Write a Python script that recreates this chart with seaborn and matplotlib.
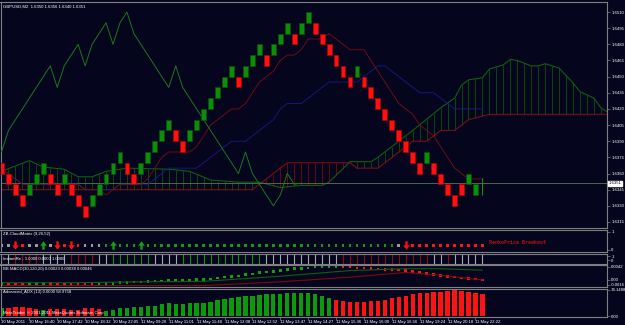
import numpy as np
import pandas as pd
import matplotlib
matplotlib.use("Agg")
import matplotlib.pyplot as plt
from matplotlib.path import Path
from matplotlib.transforms import blended_transform_factory
import seaborn as sns

BG = "#05051e"
FRAME = "#808080"

# ---------------- data ----------------
# renko bricks (10 pip): top price of every closed brick and its direction
brick_top = [1.6370, 1.6360, 1.6350, 1.6340, 1.6350, 1.6360, 1.6370, 1.6360, 1.6350, 1.6360,
             1.6350, 1.6340, 1.6330, 1.6340, 1.6350, 1.6360, 1.6370, 1.6380, 1.6370, 1.6360,
             1.6370, 1.6380, 1.6390, 1.6400, 1.6410, 1.6400, 1.6390, 1.6400, 1.6410, 1.6420,
             1.6430, 1.6440, 1.6450, 1.6460, 1.6450, 1.6460, 1.6470, 1.6480, 1.6470, 1.6480,
             1.6490, 1.6500, 1.6490, 1.6500, 1.6510, 1.6500, 1.6490, 1.6480, 1.6470, 1.6460,
             1.6450, 1.6460, 1.6450, 1.6440, 1.6430, 1.6420, 1.6410, 1.6400, 1.6390, 1.6380,
             1.6370, 1.6380, 1.6370, 1.6360, 1.6350, 1.6340, 1.6350, 1.6360, 1.6350]
brick_dir = list("dddduuudduddduuuuudduuuuudduuuuuuuduuuduuuduudddddduddddddddduddddduud")
BRICK = 0.0010
# bar still forming (header O H L C)
cur_open, cur_high, cur_low, cur_close = 1.6350, 1.6356, 1.6340, 1.6351

# ichimoku cloud edges (bar, price)
span_a_bars = [0, 4, 6, 9, 11, 13, 15, 18, 24, 27, 30, 34, 37, 40, 43, 46, 47, 50, 53, 54,
               59, 63, 65, 66, 67, 69, 70, 72, 73, 74, 76, 77, 78, 80, 82, 83, 85, 86, 87]
span_a = [1.6362, 1.6372, 1.6366, 1.6364, 1.6357, 1.6357, 1.6362, 1.6365, 1.6364, 1.6362,
          1.6354, 1.6352, 1.6352, 1.6347, 1.6349, 1.6349, 1.6352, 1.6371, 1.6371, 1.6375,
          1.6400, 1.6421, 1.6430, 1.6442, 1.6447, 1.6449, 1.6457, 1.6461, 1.6466, 1.6465,
          1.6460, 1.6460, 1.6462, 1.6458, 1.6444, 1.6436, 1.6430, 1.6421, 1.6417]
span_b_bars = [0, 36, 41, 50, 51, 54, 59, 61, 63, 65, 67, 70, 87]
span_b = [1.6345, 1.6345, 1.6370, 1.6370, 1.6365, 1.6365, 1.6390, 1.6390, 1.6400, 1.6400,
          1.6410, 1.6415, 1.6415]

price_ticks = [1.6315, 1.6330, 1.6345, 1.6360, 1.6375, 1.6390, 1.6405, 1.6420, 1.6435,
               1.6450, 1.6465, 1.6480, 1.6495, 1.6510]

# ZB-CloudMatrix signal row: + green, - red, 0 grey ; arrows at breakouts
sig_state = list("00--00+0----000+" + "+" * 41 + "0" + "-" * 12)
sig_arrows = [2, 6, 8, 10, 16, 20, 58]

# InstantRe state per bar
instant_state = list("00----0000----00++++++0000" + "+" * 12 + "0" * 11 + "-" * 13 + "00-00000")

# BB MACD dots and bands
macd = [-0.0012, -0.00135, -0.0015, -0.0015, -0.00135, -0.0012, -0.00105, -0.0012, -0.00135, -0.00135,
        -0.0015, -0.0015, -0.0015, -0.0015, -0.00135, -0.0012, -0.00105, -0.0009, -0.00075, -0.0006,
        -0.0006, -0.00045, -0.0003, -0.0003, -0.00015, -0.0001, -0.00005, 0.0, 0.0001, 0.0002,
        0.0003, 0.0006, 0.0009, 0.0012, 0.0013, 0.0018, 0.0019, 0.0024, 0.0025, 0.0027,
        0.0030, 0.0033, 0.0036, 0.0037, 0.0039, 0.0041, 0.0042, 0.00425, 0.0043, 0.0042,
        0.00415, 0.0039, 0.0038, 0.0036, 0.0035, 0.0034, 0.0033, 0.0032, 0.0030, 0.0027,
        0.0024, 0.0021, 0.0018, 0.0015, 0.0012, 0.0009, 0.0006, 0.0005, 0.0003, 0.0000]
band_bars = [0, 10, 20, 29, 40, 50, 58, 63, 69]
band_up = [-0.0009, -0.0009, -0.0006, -0.00045, 0.0012, 0.0030, 0.0036, 0.0036, 0.00315]
band_lo = [-0.0018, -0.0018, -0.0018, -0.0018, -0.0006, 0.0009, 0.0024, 0.0015, 0.0]

# Advanced ADX histogram, + when DI+ leads
adx_vals = [22.8, 22.8, 25.7, 25.7, 22.8, 20.0, 17.0, 20.0, 20.0, 20.0,
            17.1, 17.1, 22.8, 22.8, 20.0, 14.3, 18.0, 22.3, 24.0, 26.5,
            26.5, 29.4, 28.5, 33.3, 36.2, 34.2, 33.3, 36.2, 36.2, 37.0,
            39.0, 44.7, 48.5, 52.2, 55.0, 57.0, 57.9, 59.9, 61.8, 61.8,
            62.7, 65.6, 64.7, 64.7, 66.4, 62.7, 57.9, 50.4, 44.7, 42.8,
            40.8, 39.9, 39.0, 41.9, 43.6, 44.7, 50.4, 53.3, 57.0, 61.8,
            64.7, 66.4, 67.5, 69.3, 71.3, 74.1, 72.1, 69.3, 64.7, 61.8]
adx_dir = list("+-----+--------" + "+" * 33 + "-" * 22)

time_bars = [0, 4, 8, 12, 16, 20, 24, 28, 32, 36, 40, 44, 48, 52, 56, 60, 64, 68]
time_labels = ["10 May 2011", "10 May 16:40", "10 May 17:42", "10 May 18:32", "10 May 22:05",
               "11 May 09:20", "11 May 11:01", "11 May 11:48", "11 May 12:08", "11 May 12:52",
               "11 May 13:47", "11 May 14:27", "11 May 15:36", "11 May 16:00", "11 May 16:56",
               "11 May 19:24", "11 May 20:18", "11 May 22:22"]

# ---------------- derived ichimoku lines ----------------
highs = pd.Series(brick_top + [cur_high])
lows = pd.Series([t - BRICK for t in brick_top] + [cur_low])
closes = np.array([t if d == "u" else t - BRICK for t, d in zip(brick_top, brick_dir)] + [cur_close])
bars = np.arange(len(closes))
tenkan = (highs.rolling(9, min_periods=1).max() + lows.rolling(9, min_periods=1).min()) / 2
kijun = (highs.rolling(26, min_periods=1).max() + lows.rolling(26, min_periods=1).min()) / 2

# ---------------- figure ----------------
sns.set_style("dark", {"axes.facecolor": BG, "figure.facecolor": BG, "axes.edgecolor": FRAME})
plt.rcParams["font.family"] = ["Liberation Sans", "DejaVu Sans"]
FS = 3.1

W, H = 625, 325


def box(x0, y0, x1, y1):
    return [x0 / W, 1 - y1 / H, (x1 - x0) / W, (y1 - y0) / H]


fig = plt.figure(figsize=(6.25, 3.25), dpi=100, facecolor=BG)
ax = fig.add_axes(box(0.5, 1.5, 607, 228))
p1 = fig.add_axes(box(0.5, 230, 607, 251.5))
p2 = fig.add_axes(box(0.5, 253.5, 607, 263.5))
p3 = fig.add_axes(box(0.5, 265, 607, 286.5))
p4 = fig.add_axes(box(0.5, 288.5, 607, 316.5))
XL = (-0.14, 86.87)


def style(a, ticks, labels):
    a.set_facecolor(BG)
    a.grid(False)
    a.set_xlim(*XL)
    for sp in a.spines.values():
        sp.set_color(FRAME)
        sp.set_linewidth(0.8)
    a.set_yticks(ticks)
    a.set_yticklabels(labels)
    a.tick_params(axis="y", left=False, right=True, labelleft=False, labelright=True,
                  labelsize=FS, labelcolor="white", color=FRAME, length=2, width=0.5, pad=1)
    a.tick_params(axis="x", bottom=False, labelbottom=False)
    a.set_xlabel("")
    a.set_ylabel("")


# ---- main chart ----
ax.set_ylim(1.63094, 1.65198)
hk = np.arange(0, 88)
ha = np.interp(hk, span_a_bars, span_a)
hb = np.interp(hk, span_b_bars, span_b)
ax.vlines(hk, np.minimum(ha, hb), np.maximum(ha, hb),
          colors=np.where(ha >= hb, "#0a520a", "#720c0c"), linewidth=0.6, zorder=1)
sns.lineplot(x=span_b_bars, y=span_b, ax=ax, color="#850e0e", linewidth=0.75, estimator=None, zorder=2)
sns.lineplot(x=span_a_bars, y=span_a, ax=ax, color="#0e640e", linewidth=0.75, estimator=None, zorder=2)
ax.axhline(cur_close, color="#5d7552", linewidth=0.6, zorder=2)
sns.lineplot(x=bars, y=kijun.values, ax=ax, color="#1a1a8c", linewidth=0.6, estimator=None, zorder=3)
sns.lineplot(x=bars, y=tenkan.values, ax=ax, color="#7e0e0e", linewidth=0.6, estimator=None, zorder=3)
sns.lineplot(x=bars - 26, y=closes, ax=ax, color="#178217", linewidth=0.65, estimator=None, zorder=3)

nb = len(brick_top)
face = ["#0b8f0b" if d == "u" else "#ff1111" for d in brick_dir]
edge = ["#0a4f0a" if d == "u" else "#b00000" for d in brick_dir]
ax.bar(np.arange(nb), BRICK, width=0.7, bottom=np.array(brick_top) - BRICK,
       color=face, edgecolor=edge, linewidth=0.5, zorder=4)
ax.vlines(nb, cur_low, cur_high, color="#0b9a0b", linewidth=0.7, zorder=4)

style(ax, price_ticks, [f"{v:.4f}" for v in price_ticks])
ax.text(0.004, 0.988, "GBPUSD,M2  %.4f %.4f %.4f %.4f" % (cur_open, cur_high, cur_low, cur_close),
        transform=ax.transAxes, va="top", ha="left", fontsize=FS, color="white")
ax.text(1.003, cur_close, f"{cur_close:.4f}", transform=blended_transform_factory(ax.transAxes, ax.transData),
        va="center", ha="left", fontsize=FS, color="black", clip_on=False,
        bbox=dict(facecolor="white", edgecolor="white", pad=0.5))

# ---- ZB-CloudMatrix ----
p1.set_ylim(-0.1, 1.1)
pal = {"+": "#119911", "-": "#ff1414", "0": "#9a9a9a"}
dots = pd.DataFrame({"k": np.arange(len(sig_state)), "state": sig_state})
dots = dots[~dots["k"].isin(sig_arrows)]
sns.scatterplot(data=dots, x="k", y=np.full(len(dots), 0.25), hue="state", palette=pal,
                marker="s", s=3.5, linewidth=0, legend=False, ax=p1)
down = Path([(-0.14, 0.5), (0.14, 0.5), (0.14, 0.02), (0.4, 0.02), (0, -0.5), (-0.4, 0.02),
             (-0.14, 0.02), (-0.14, 0.5)], closed=True)
up = Path([(x, -y) for x, y in down.vertices], closed=True)
for k in sig_arrows:
    if sig_state[k] == "-":
        p1.scatter([k], [0.25], marker=down, s=36, color="#ff1010", linewidths=0)
    else:
        p1.scatter([k], [0.25], marker=up, s=36, color="#14a014", linewidths=0)
p1.text(70, 0.42, "RenkoPrice Breakout", fontsize=3.6, color="#b01010",
        family="DejaVu Sans Mono", fontweight="bold", va="center", ha="left")
style(p1, [0, 1], ["0", "1"])
p1.text(0.004, 0.93, "ZB-CloudMatrix (9,26,52)", transform=p1.transAxes, va="top", fontsize=FS, color="white")

# ---- InstantRe ----
p2.set_ylim(-0.875, 1.625)
icol = {"+": "#12901a", "-": "#8a0c0c", "0": "#a8a8a8"}
p2.vlines(np.arange(len(instant_state)), -0.875, 1.625, colors=[icol[s] for s in instant_state], linewidth=0.8)
style(p2, [0, 1], ["0", "1"])
p2.text(0.004, 0.5, "InstantRe - 1.0000 0.0000 1.0000", transform=p2.transAxes, va="center",
        fontsize=FS, color="white")

# ---- BB MACD ----
p3.set_ylim(-0.0021, 0.0048)
sns.lineplot(x=band_bars, y=band_lo, ax=p3, color="#7a0c0c", linewidth=0.8, estimator=None)
sns.lineplot(x=band_bars, y=band_up, ax=p3, color="#106010", linewidth=0.8, estimator=None)
mdir = []
for i, v in enumerate(macd):
    if i == 0 or v == macd[i - 1]:
        mdir.append(mdir[-1] if mdir else "+")
    else:
        mdir.append("+" if v > macd[i - 1] else "-")
sns.scatterplot(x=np.arange(len(macd)), y=macd, hue=mdir, palette={"+": "#11a011", "-": "#ff1414"},
                marker="s", s=3.5, linewidth=0, legend=False, ax=p3)
style(p3, [-0.0016, 0.0, 0.0042], ["-0.0016", "0.00", "0.0042"])
p3.text(0.004, 0.93, "BB MACD(30,120,20) 0.00023 0.00038 0.00046", transform=p3.transAxes, va="top",
        fontsize=FS, color="white")

# ---- Advanced ADX ----
p4.set_ylim(-1.4, 78.4)
p4.bar(np.arange(len(adx_vals)), adx_vals, width=0.62,
       color=["#0c9a0c" if d == "+" else "#ff1212" for d in adx_dir], linewidth=0)
style(p4, [0, 74.1488], ["0.00", "74.1488"])
p4.text(0.004, 0.93, "Advanced_ADX (13) 0.0000 58.9758", transform=p4.transAxes, va="top",
        fontsize=FS, color="white")
p4.text(0.004, 0.13, "MetaTrader, \u00a9 2001-2011 MetaQuotes Software Corp.", transform=p4.transAxes,
        va="center", fontsize=FS, color="white")
p4.set_xticks(time_bars)
p4.set_xticklabels(time_labels)
p4.tick_params(axis="x", bottom=True, labelbottom=True, length=2, width=0.5, color=FRAME,
               labelcolor="white", labelsize=FS, pad=0.8)
for lbl in p4.get_xticklabels():
    lbl.set_ha("left")

fig.savefig("out.png", dpi=100, facecolor=BG)
